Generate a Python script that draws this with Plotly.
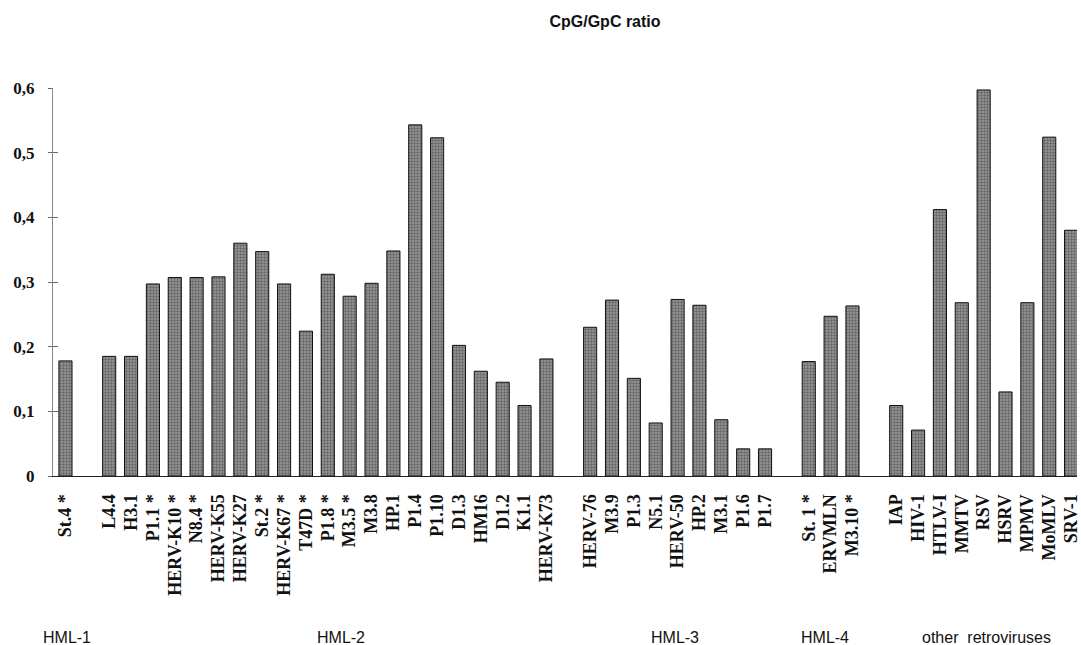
import plotly.graph_objects as go

# CpG/GpC ratios per provirus, grouped by family
hml1_names = ["St.4 *"]
hml1_vals = [0.178]

hml2_names = ["L4.4", "H3.1", "P1.1 *", "HERV-K10 *", "N8.4 *", "HERV-K55", "HERV-K27",
              "St.2 *", "HERV-K67 *", "T47D *", "P1.8 *", "M3.5 *", "M3.8", "HP.1",
              "P1.4", "P1.10", "D1.3", "HM16", "D1.2", "K1.1", "HERV-K73"]
hml2_vals = [0.185, 0.185, 0.297, 0.307, 0.307, 0.308, 0.360,
             0.347, 0.297, 0.224, 0.312, 0.278, 0.298, 0.348,
             0.543, 0.523, 0.202, 0.162, 0.145, 0.109, 0.181]

hml3_names = ["HERV-76", "M3.9", "P1.3", "N5.1", "HERV-50", "HP.2", "M3.1", "P1.6", "P1.7"]
hml3_vals = [0.230, 0.272, 0.151, 0.082, 0.273, 0.264, 0.087, 0.042, 0.042]

hml4_names = ["St. 1 *", "ERVMLN", "M3.10 *"]
hml4_vals = [0.177, 0.247, 0.263]

other_names = ["IAP", "HIV-1", "HTLV-I", "MMTV", "RSV", "HSRV", "MPMV", "MoMLV", "SRV-1"]
other_vals = [0.109, 0.071, 0.412, 0.268, 0.597, 0.130, 0.268, 0.524, 0.380]

group_titles = ["HML-1", "HML-2", "HML-3", "HML-4", "other  retroviruses"]
y_ticks = [0, 0.1, 0.2, 0.3, 0.4, 0.5, 0.6]
y_tick_text = ["0", "0,1", "0,2", "0,3", "0,4", "0,5", "0,6"]

groups = [(hml1_names, hml1_vals), (hml2_names, hml2_vals), (hml3_names, hml3_vals),
          (hml4_names, hml4_vals), (other_names, other_vals)]

# lay the bars out on slots, leaving one empty slot between families
xs, names, vals = [], [], []
slot = 0
for g_names, g_vals in groups:
    for n, v in zip(g_names, g_vals):
        xs.append(slot)
        names.append(n)
        vals.append(v)
        slot += 1
    slot += 1

serif = "Liberation Serif"
sans = "Liberation Sans"

fig = go.Figure()
fig.add_trace(go.Bar(
    x=xs, y=vals, width=0.6,
    marker=dict(color="#8a8a8a", line=dict(color="#111111", width=1),
                pattern=dict(shape=".", size=3, solidity=0.5,
                             fgcolor="#2e2e2e", bgcolor="#9c9c9c")),
    showlegend=False,
))
# invisible trace on the overlay axis so the cross-ticks render
fig.add_trace(go.Scatter(x=[xs[0]], y=[0], yaxis="y2", mode="markers",
                         marker=dict(opacity=0), showlegend=False, hoverinfo="skip"))

fig.update_layout(
    width=1081, height=645,
    margin=dict(l=53, r=0, t=88, b=169),
    paper_bgcolor="white", plot_bgcolor="white",
    title=dict(text="<b>CpG/GpC ratio</b>", x=605 / 1081, xanchor="center",
               y=1 - 21 / 645, yanchor="middle",
               font=dict(family=sans, size=16, color="#111111")),
    xaxis=dict(
        range=[-0.57, 46.27], tickmode="array", tickvals=xs, ticktext=names,
        tickangle=-90, ticks="", showgrid=False, zeroline=False,
        showline=True, linecolor="#222222", linewidth=1,
        tickfont=dict(family=serif, size=18, color="#111111", weight="bold"),
        ticklabelstandoff=10, ticklabeloverflow="allow",
    ),
    yaxis=dict(
        range=[0, 0.6], tickmode="array", tickvals=y_ticks, ticktext=y_tick_text,
        ticks="outside", ticklen=4, tickcolor="#666666",
        showgrid=False, zeroline=False,
        showline=True, linecolor="#888888", linewidth=1,
        tickfont=dict(family=serif, size=17, color="#111111", weight="bold"),
        ticklabelstandoff=10,
    ),
    yaxis2=dict(
        range=[0, 0.6], overlaying="y", side="left", tickmode="array",
        tickvals=y_ticks, ticks="inside", ticklen=5, tickcolor="#666666",
        showticklabels=False, showgrid=False, zeroline=False, showline=False,
    ),
)

# family captions along the bottom edge
group_x = [67, 342, 677, 828, 990]
for t, gx in zip(group_titles, group_x):
    fig.add_annotation(text=t, xref="paper", yref="paper",
                       x=(gx - 53) / (1081 - 53), y=-(637 - 476) / (476 - 88),
                       xanchor="center", yanchor="middle", showarrow=False,
                       font=dict(family=sans, size=16, color="#111111"))

fig.write_html("out.html")
